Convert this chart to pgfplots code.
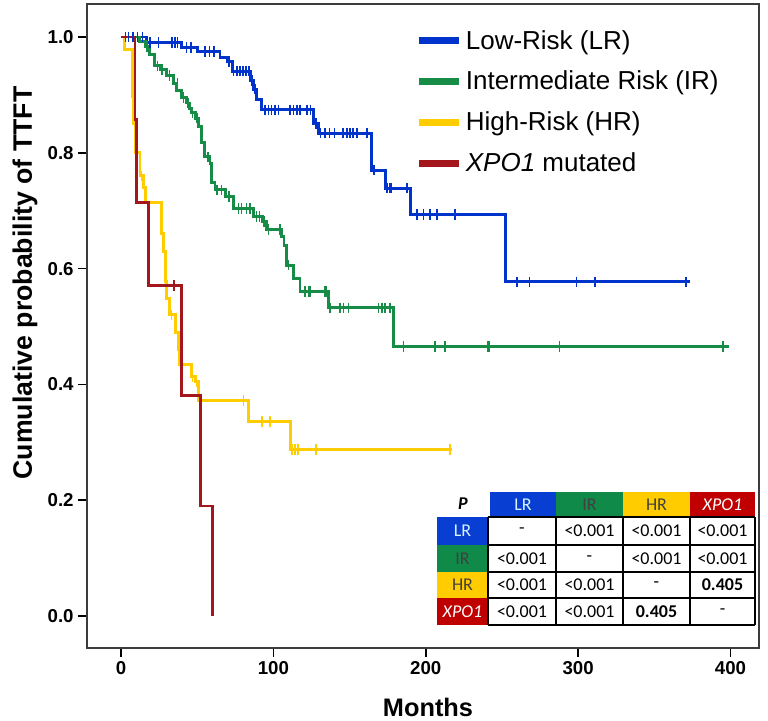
\documentclass[border=0pt]{standalone}
\usepackage{fontspec}
\setmainfont{Liberation Sans}
\newfontfamily\tabfont{Carlito}
\usepackage{pgfplots}
\pgfplotsset{compat=1.18}
\definecolor{lrblue}{RGB}{0,51,204}
\definecolor{irgreen}{RGB}{22,140,70}
\definecolor{hryellow}{RGB}{255,204,0}
\definecolor{xpored}{RGB}{163,23,28}
\definecolor{tblue}{RGB}{8,62,210}
\definecolor{tgreen}{RGB}{16,138,72}
\definecolor{tyellow}{RGB}{255,204,0}
\definecolor{tred}{RGB}{192,0,0}
\definecolor{frame}{RGB}{60,60,60}

\begin{document}
\begin{tikzpicture}
% picture box: 768x721 px, 1px = 0.75pt, axis box at px (87,4)-(759,648)
\path[use as bounding box] (-65.25pt,-54.75pt) rectangle (510.75pt,486pt);
\begin{axis}[
  at={(0,0)}, anchor=south west,
  scale only axis, width=504pt, height=483pt,
  xmin=-22.3, xmax=418.7,
  ymin=-0.0553, ymax=1.057,
  xtick={0,100,200,300,400},
  ytick={0,0.2,0.4,0.6,0.8,1.0},
  xtick pos=bottom, ytick pos=left,
  tick align=outside, major tick length=6.5pt,
  axis line style={draw=frame, line width=1.5pt},
  tick style={black, line width=1.2pt},
  tick label style={font=\bfseries\fontsize{14}{14}\selectfont},
  /pgf/number format/assume math mode=true,
  yticklabel style={/pgf/number format/fixed, /pgf/number format/fixed zerofill, /pgf/number format/precision=1},
  legend style={at={(0.483,0.969)}, anchor=north west, draw=none, fill=none,
    font=\fontsize{19.5}{19.5}\selectfont, row sep=10pt,
    nodes={inner sep=2.5pt}},
  legend cell align=left,
  legend image code/.code={\draw[#1, line width=5pt] (0pt,0pt) -- (30pt,0pt);},
  clip=false,
]
% Low-Risk
\addplot[const plot, lrblue, line width=2.2pt, forget plot] coordinates {
  (0,1) (17,0.99) (40,0.982) (50,0.975) (65,0.965) (70,0.958) (73,0.941)
  (85,0.925) (87,0.91) (89,0.892) (92,0.874) (126.3,0.851) (129.6,0.834)
  (164.6,0.770) (173.3,0.739) (189.8,0.693) (252.6,0.577) (373.6,0.577)
};
\addplot[only marks, mark=|, mark size=4pt, lrblue, line width=1.1pt, forget plot] coordinates {
  (3,1) (5,1) (8,1) (11,1) (14,1)
  (19,0.99) (24.5,0.99) (33.5,0.99) (35.5,0.99) (37,0.99)
  (43,0.982) (46,0.982) (55,0.975) (58,0.975) (61,0.975) (71,0.958)
  (74,0.941) (76,0.941) (78,0.941) (80,0.941) (82,0.941) (84,0.941)
  (86,0.925) (88,0.91)
  (94.5,0.874) (96.7,0.874) (98.9,0.874) (101.1,0.874) (103.3,0.874)
  (111,0.874) (113.2,0.874) (115.4,0.874) (117.6,0.874) (122,0.874) (124.2,0.874)
  (128,0.851)
  (131,0.834) (134,0.834) (137,0.834) (140,0.834) (145.8,0.834) (148.4,0.834)
  (150.4,0.834) (152.4,0.834) (155,0.834) (161.5,0.834)
  (166,0.770) (174.5,0.739) (176.6,0.739) (177.7,0.739) (187.6,0.739)
  (194.2,0.693) (198.5,0.693) (202.9,0.693) (207.3,0.693) (219.3,0.693)
  (259.8,0.577) (268.1,0.577) (298.8,0.577) (311.2,0.577) (370.7,0.577)
};
% Intermediate Risk
\addplot[const plot, irgreen, line width=2.2pt, forget plot] coordinates {
  (0,1) (12,0.992) (15.8,0.984) (19,0.969) (22.3,0.95) (25.6,0.944) (30,0.933)
  (34.3,0.92) (36.5,0.908) (39.8,0.895) (43.1,0.886) (45,0.877) (46.4,0.869)
  (48.6,0.86) (50.8,0.846) (53,0.817) (55,0.793) (58.4,0.782) (59.5,0.748)
  (61.7,0.736) (68.3,0.724) (73.8,0.704) (87,0.69) (93,0.681) (95.7,0.668)
  (105.5,0.655) (107,0.64) (108.8,0.606) (113.2,0.583) (117.5,0.561)
  (136.1,0.532) (178.8,0.465) (398.8,0.465)
};
\addplot[only marks, mark=|, mark size=4pt, irgreen, line width=1.1pt, forget plot] coordinates {
  (17,0.984) (24,0.95) (27,0.944) (32,0.933) (37,0.92) (41,0.895) (44,0.886)
  (47,0.869) (50,0.86) (57,0.793) (63,0.736) (66,0.736) (71,0.724)
  (77,0.704) (79.2,0.704) (82.5,0.704) (84.7,0.704) (89,0.69) (91,0.69)
  (94,0.681) (96.7,0.668) (104.4,0.668) (110,0.606)
  (120.8,0.561) (123,0.561) (124.1,0.561) (134,0.561) (135,0.561)
  (137.2,0.532) (143.8,0.532) (146,0.532) (149.3,0.532) (169,0.532)
  (171.2,0.532) (173.3,0.532) (176.6,0.532)
  (185.4,0.465) (206.2,0.465) (212.7,0.465) (240.5,0.465) (241.4,0.465)
  (287.8,0.465) (395,0.465)
};
% High-Risk
\addplot[const plot, hryellow, line width=2.2pt, forget plot] coordinates {
  (0,1) (2.6,0.978) (7.7,0.898) (8.5,0.85) (9.5,0.80) (12.5,0.76) (14.6,0.74)
  (15.8,0.714) (26.7,0.66) (28,0.63) (29,0.577) (30,0.549) (32,0.52)
  (35.5,0.49) (37.6,0.46) (38.7,0.435) (46.4,0.413) (48.6,0.405)
  (50.8,0.372) (83.6,0.336) (111,0.287) (217.3,0.287)
};
\addplot[only marks, mark=|, mark size=4pt, hryellow, line width=1.1pt, forget plot] coordinates {
  (13.5,0.76) (33.2,0.52) (46.8,0.413) (49.5,0.405) (80.3,0.372)
  (92.4,0.336) (97.8,0.336) (112.3,0.287) (114.2,0.287) (116.2,0.287)
  (128,0.287) (216,0.287)
};
% XPO1 mutated
\addplot[const plot, xpored, line width=2.2pt, forget plot] coordinates {
  (0,1) (9.2,0.857) (10.3,0.714) (17.9,0.571) (39.8,0.381) (51.9,0.19) (60,0)
};
\addplot[only marks, mark=|, mark size=4pt, xpored, line width=1.1pt, forget plot] coordinates {
  (34.8,0.571)
};
\addlegendimage{lrblue}
\addlegendentry{Low-Risk (LR)}
\addlegendimage{irgreen}
\addlegendentry{Intermediate Risk (IR)}
\addlegendimage{hryellow}
\addlegendentry{High-Risk (HR)}
\addlegendimage{xpored}
\addlegendentry{\textit{XPO1} mutated}
\end{axis}
% labels and p-value table, in pixel coordinates of the picture
\begin{scope}[shift={(-65.25pt,486pt)}, x=0.75pt, y=-0.75pt]
  \node[rotate=90, font=\bfseries\fontsize{20}{20}\selectfont] at (25,283) {Cumulative probability of TTFT};
  \node[font=\bfseries\fontsize{19}{19}\selectfont] at (428,707) {Months};
  \begin{scope}[every node/.style={font=\tabfont\fontsize{13.5}{13.5}\selectfont}]
    \node[font=\tabfont\bfseries\itshape\fontsize{13.5}{13.5}\selectfont] at (463,504) {P};
    \fill[tblue] (490,492) rectangle (556,517);
    \fill[tgreen] (556,492) rectangle (623,517);
    \fill[tyellow] (623,492) rectangle (690,517);
    \fill[tred] (690,492) rectangle (755,517);
    \node[text=white!85!cyan] at (523,504.5) {LR};
    \node[text=black!75] at (589.5,504.5) {IR};
    \node[text=black!75] at (656.5,504.5) {HR};
    \node[text=white] at (722.5,504.5) {\itshape XPO1};
    \fill[tblue] (437,517) rectangle (488,545);
    \fill[tgreen] (437,545) rectangle (488,572);
    \fill[tyellow] (437,572) rectangle (488,598);
    \fill[tred] (437,598) rectangle (488,625);
    \node[text=white!85!cyan] at (462.5,531) {LR};
    \node[text=black!75] at (462.5,558.5) {IR};
    \node[text=black!75] at (462.5,585) {HR};
    \node[text=white] at (462.5,611.5) {\itshape XPO1};
    \fill[white] (488,517) rectangle (755,625);
    \foreach \yy in {517,545,572,598,625} \draw[line width=0.9pt] (488,\yy) -- (755,\yy);
    \foreach \xx in {488,556,623,690,755} \draw[line width=0.9pt] (\xx,517) -- (\xx,625);
    \node at (522,531) {-};        \node at (589.5,531) {<0.001};  \node at (656.5,531) {<0.001};  \node at (722.5,531) {<0.001};
    \node at (522,558.5) {<0.001}; \node at (589.5,558.5) {-};     \node at (656.5,558.5) {<0.001};\node at (722.5,558.5) {<0.001};
    \node at (522,585) {<0.001};   \node at (589.5,585) {<0.001};  \node at (656.5,585) {-};       \node at (722.5,585) {\bfseries 0.405};
    \node at (522,611.5) {<0.001}; \node at (589.5,611.5) {<0.001};\node at (656.5,611.5) {\bfseries 0.405}; \node at (722.5,611.5) {-};
  \end{scope}
\end{scope}
\end{tikzpicture}
\end{document}
